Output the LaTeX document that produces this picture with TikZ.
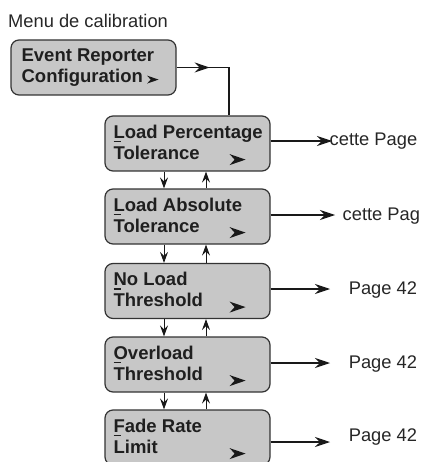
\documentclass[tikz,border=0pt]{standalone}
\usepackage{fontspec}
\setmainfont{Liberation Sans}
\usetikzlibrary{arrows.meta,decorations.markings}
\newcommand{\keyln}[1]{\rlap{\rule[-4pt]{7pt}{1.5pt}}#1}

\begin{document}
\begin{tikzpicture}[x=1pt,y=-1pt,
    menubox/.style={draw=black!80, line width=1.2pt, fill=black!22, rounded corners=8pt, minimum width=165pt, minimum height=55pt, inner sep=0pt},
    boxtext/.style={anchor=north west, align=left, inner sep=0pt, font=\bfseries\fontsize{18.5}{21}\selectfont, text=black!88},
    pagetext/.style={anchor=base west, inner sep=0pt, font=\fontsize{18.3}{21}\selectfont, text=black!85},
    flow/.style={line width=1.1pt, draw=black!90, -{Stealth[length=15pt,width=10pt,inset=5pt]}},
    updown/.style={line width=1pt, draw=black!90, -{Stealth[length=11pt,width=8pt,inset=4pt]}},
    navtip/.pic={\fill[black!90] (0,0) -- (-16,-5.5) -- (-11,0) -- (-16,5.5) -- cycle;}]
    \useasboundingbox (0,0) rectangle (423,462);

    % title
    \node[pagetext] (title) at (8,28) {Menu de calibration};

    % menu boxes
    \node[menubox] (erc) at (93.5,67.5) {};
    \node[menubox] (lp) at (187.5,143.5) {};
    \node[menubox] (la) at (187.5,216.5) {};
    \node[menubox] (nl) at (187.5,291) {};
    \node[menubox] (ol) at (187.5,364.5) {};
    \node[menubox] (fr) at (187.5,437.5) {};

    \node[boxtext] (ercText) at ([shift={(11,9)}]erc.north west) {Event Reporter\\Configuration};
    \node[boxtext] (lpText) at ([shift={(9,9)}]lp.north west) {\keyln{L}oad Percentage\\Tolerance};
    \node[boxtext] (laText) at ([shift={(9,9)}]la.north west) {\keyln{L}oad Absolute\\Tolerance};
    \node[boxtext] (nlText) at ([shift={(9,9)}]nl.north west) {\keyln{N}o Load\\Threshold};
    \node[boxtext] (olText) at ([shift={(9,9)}]ol.north west) {\keyln{O}verload\\Threshold};
    \node[boxtext] (frText) at ([shift={(9,9)}]fr.north west) {\keyln{F}ade Rate\\Limit};

    % little arrows inside the boxes
    \pic[scale=0.72] at ([shift={(-18,-16)}]erc.south east) {navtip};
    \pic at ([shift={(-25,-12)}]lp.south east) {navtip};
    \pic at ([shift={(-25,-12)}]la.south east) {navtip};
    \pic at ([shift={(-25,-12)}]nl.south east) {navtip};
    \pic at ([shift={(-25,-12)}]ol.south east) {navtip};
    \pic at ([shift={(-25,-12)}]fr.south east) {navtip};

    % entry into the list
    \coordinate (ercTurn) at (229,67.5);
    \draw[line width=1.1pt, draw=black!90, postaction={decorate},
        decoration={markings, mark=at position 0.33 with {\arrow{Stealth[length=15pt,width=10pt,inset=5pt]}}}]
        (erc.east) -- (ercTurn) -- (ercTurn |- lp.north);

    % up and down between the boxes
    \draw[updown] ([xshift=-23.5]lp.south) -- ([xshift=-23.5]la.north);
    \draw[updown] ([xshift=18.5]la.north) -- ([xshift=18.5]lp.south);
    \draw[updown] ([xshift=-23.5]la.south) -- ([xshift=-23.5]nl.north);
    \draw[updown] ([xshift=18.5]nl.north) -- ([xshift=18.5]la.south);
    \draw[updown] ([xshift=-23.5]nl.south) -- ([xshift=-23.5]ol.north);
    \draw[updown] ([xshift=18.5]ol.north) -- ([xshift=18.5]nl.south);
    \draw[updown] ([xshift=-23.5]ol.south) -- ([xshift=-23.5]fr.north);
    \draw[updown] ([xshift=18.5]fr.north) -- ([xshift=18.5]ol.south);

    % page references
    \coordinate (lpTip) at (332,141);
    \coordinate (laTip) at (335,215);
    \coordinate (nlTip) at (330,289);
    \coordinate (olTip) at (330,363);
    \coordinate (frTip) at (330,442);
    \node[pagetext] (lpRef) at (329.5,146) {cette Page};
    \node[pagetext] (laRef) at (342.5,220) {cette Pag};
    \node[pagetext] (nlRef) at (348.6,294) {Page 42};
    \node[pagetext] (olRef) at (348.6,368) {Page 42};
    \node[pagetext] (frRef) at (348.6,441) {Page 42};
    \draw[flow] (lp.east |- lpTip) -- (lpTip);
    \draw[flow] (la.east |- laTip) -- (laTip);
    \draw[flow] (nl.east |- nlTip) -- (nlTip);
    \draw[flow] (ol.east |- olTip) -- (olTip);
    \draw[flow] (fr.east |- frTip) -- (frTip);
\end{tikzpicture}
\end{document}
